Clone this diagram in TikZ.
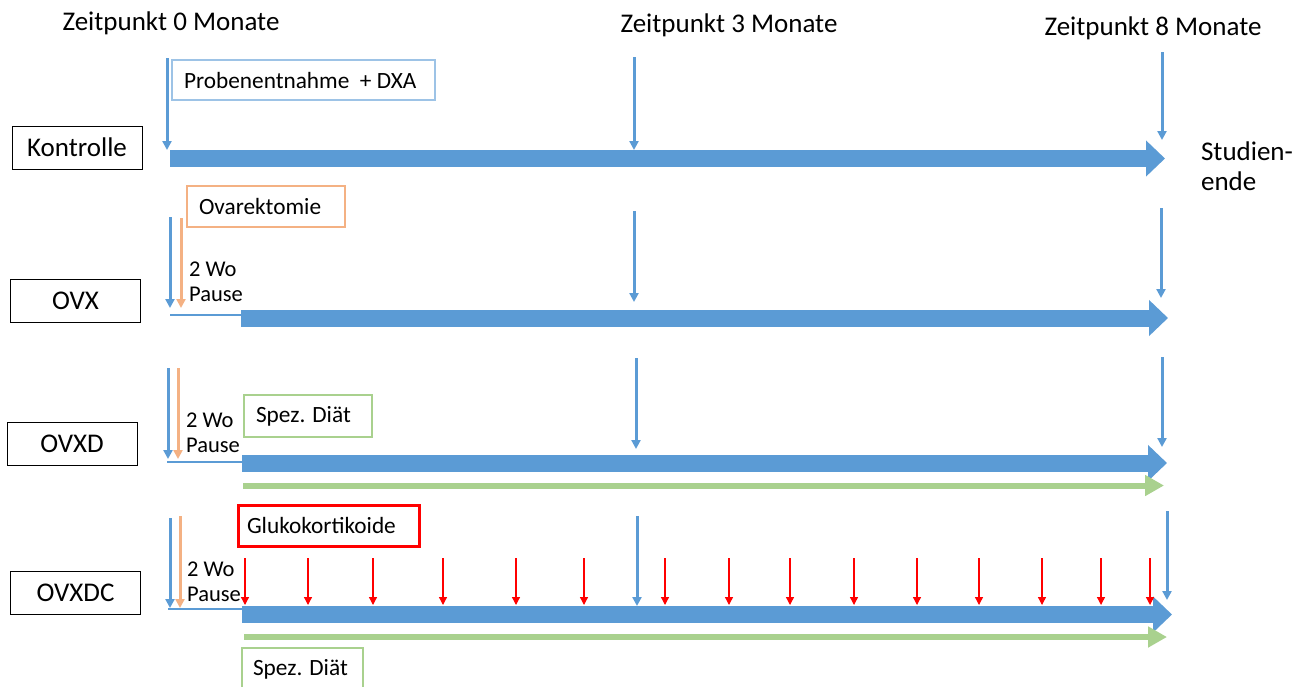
\documentclass[tikz,border=0pt]{standalone}
\usepackage{fontspec}
\setmainfont{Carlito}
\usetikzlibrary{arrows.meta}
\definecolor{mblue}{HTML}{5B9BD5}
\definecolor{mlblue}{HTML}{9DC3E6}
\definecolor{morange}{HTML}{F4B183}
\definecolor{mgreen}{HTML}{A9D18E}
\definecolor{mred}{HTML}{FF0000}
\tikzset{
  big/.style={font=\fontsize{27}{30}\selectfont},
  small/.style={font=\fontsize{22.5}{25}\selectfont},
  infofont/.style={font=\fontsize{23.3}{26}\selectfont},
  groupbox/.style={draw=black, line width=1pt, minimum width=130pt, minimum height=43pt, inner sep=0pt, big},
  infobox/.style={line width=2.5pt, minimum height=41pt, inner ysep=0pt, inner xsep=12pt, infofont},
  bigarrow/.style={draw=mblue, line width=17pt, -{Triangle[length=19pt,width=35pt]}},
  greenarrow/.style={draw=mgreen, line width=6pt, -{Triangle[length=19pt,width=20pt]}},
  marker/.style={draw=mblue, line width=3pt, -{Triangle[length=9pt,width=9pt]}},
  opmarker/.style={draw=morange, line width=3pt, -{Triangle[length=9pt,width=9pt]}},
  redmarker/.style={draw=mred, line width=1.3pt, -{Triangle[length=8pt,width=8pt]}},
  pauseline/.style={draw=mblue, line width=1.3pt},
  plain/.style={inner sep=0pt}
}
\begin{document}
\begin{tikzpicture}[x=1pt,y=-1pt]
\useasboundingbox (0,0) rectangle (1311,686);
\fill[white] (0,0) rectangle (1311,686);
% titles
\node[plain,big] (t0) at (171,23) {Zeitpunkt 0 Monate};
\node[plain,big] (t3) at (729,25) {Zeitpunkt 3 Monate};
\node[plain,big] (t8) at (1153,28) {Zeitpunkt 8 Monate};
\node[plain,big,align=left] (ende) at (1247,166) {Studien-\\ende};
% group boxes
\node[groupbox] (kon) at (77,147.5) {Kontrolle};
\node[groupbox] (ovx) at (75.5,300.5) {OVX};
\node[groupbox] (ovxd) at (72,444) {OVXD};
\node[groupbox] (ovxdc) at (75.5,593) {OVXDC};
% info boxes (inner box width = box width - 2*padding)
\node[infobox,draw=mlblue,minimum height=40pt] (probe) at (303.5,80) {\makebox[239pt][l]{Probenentnahme\ \ + DXA}};
\node[infobox,draw=morange] (ovar) at (266,206.5) {\makebox[134pt][l]{Ovarektomie}};
\node[infobox,draw=mgreen,minimum height=42pt] (diat1) at (308,416) {\makebox[104pt][l]{Spez. Diät}};
\node[infobox,draw=mred,line width=3pt,inner xsep=9pt] (gluko) at (328.5,525.5) {\makebox[163pt][l]{Glukokortikoide}};
\node[infobox,draw=mgreen,inner xsep=11pt,minimum height=42pt] (diat2) at (302.5,669) {\makebox[99pt][l]{Spez. Diät}};
% pause labels
\node[plain,small,align=left] (p1) at (216,282) {2 Wo\\Pause};
\node[plain,small,align=left] (p2) at (213,433) {2 Wo\\Pause};
\node[plain,small,align=left] (p3) at (214,582) {2 Wo\\Pause};
% coordinates for main arrows
\coordinate (k0) at (170,158.5); \coordinate (k1) at (1165,158.5);
\coordinate (x0) at (241,318); \coordinate (x1) at (1168,318);
\coordinate (d0) at (242,463); \coordinate (d1) at (1167,463);
\coordinate (c0) at (242,614.5); \coordinate (c1) at (1172,614.5);
\coordinate (dg0) at (243,485.5); \coordinate (dg1) at (1164,485.5);
\coordinate (cg0) at (244,637); \coordinate (cg1) at (1167,637);
\draw[bigarrow] (k0) -- (k1);
\draw[bigarrow] (x0) -- (x1);
\draw[bigarrow] (d0) -- (d1);
\draw[bigarrow] (c0) -- (c1);
\draw[greenarrow] (dg0) -- (dg1);
\draw[greenarrow] (cg0) -- (cg1);
% pause lines
\coordinate (xl) at (170,315); \coordinate (dl) at (167,462); \coordinate (cl) at (168,609);
\draw[pauseline] (xl) -- (x0 |- xl);
\draw[pauseline] (dl) -- (d0 |- dl);
\draw[pauseline] (cl) -- (c0 |- cl);
% time markers
\coordinate (m1a) at (167,58); \coordinate (m1b) at (167,150);
\coordinate (m2a) at (634,57); \coordinate (m2b) at (634,150);
\coordinate (m3a) at (1162,52); \coordinate (m3b) at (1162,140);
\draw[marker] (m1a) -- (m1b);
\draw[marker] (m2a) -- (m2b);
\draw[marker] (m3a) -- (m3b);
\coordinate (m4a) at (170,217); \coordinate (m4b) at (170,308);
\coordinate (o1a) at (181,218); \coordinate (o1b) at (181,308);
\coordinate (m5a) at (634,211); \coordinate (m5b) at (634,302);
\coordinate (m6a) at (1161,208); \coordinate (m6b) at (1161,298);
\draw[marker] (m4a) -- (m4b);
\draw[opmarker] (o1a) -- (o1b);
\draw[marker] (m5a) -- (m5b);
\draw[marker] (m6a) -- (m6b);
\coordinate (m7a) at (168,368); \coordinate (m7b) at (168,459);
\coordinate (o2a) at (178,368); \coordinate (o2b) at (178,459);
\coordinate (m8a) at (636,358); \coordinate (m8b) at (636,449);
\coordinate (m9a) at (1162,357); \coordinate (m9b) at (1162,447);
\draw[marker] (m7a) -- (m7b);
\draw[opmarker] (o2a) -- (o2b);
\draw[marker] (m8a) -- (m8b);
\draw[marker] (m9a) -- (m9b);
\coordinate (m10a) at (170,518); \coordinate (m10b) at (170,608);
\coordinate (o3a) at (180,516); \coordinate (o3b) at (180,608);
\coordinate (m11a) at (637,516); \coordinate (m11b) at (637,606);
\coordinate (m12a) at (1167,511); \coordinate (m12b) at (1167,600);
\draw[marker] (m10a) -- (m10b);
\draw[opmarker] (o3a) -- (o3b);
\draw[marker] (m11a) -- (m11b);
\draw[marker] (m12a) -- (m12b);
% glucocorticoid markers
\foreach \xx [count=\i] in {245,308,373,443,516,584,665,729,790,854,917,979,1042,1101,1150}{
  \coordinate (r\i a) at (\xx,558);
  \coordinate (r\i b) at (\xx,605);
  \draw[redmarker] (r\i a) -- (r\i b);
}
\end{tikzpicture}
\end{document}
